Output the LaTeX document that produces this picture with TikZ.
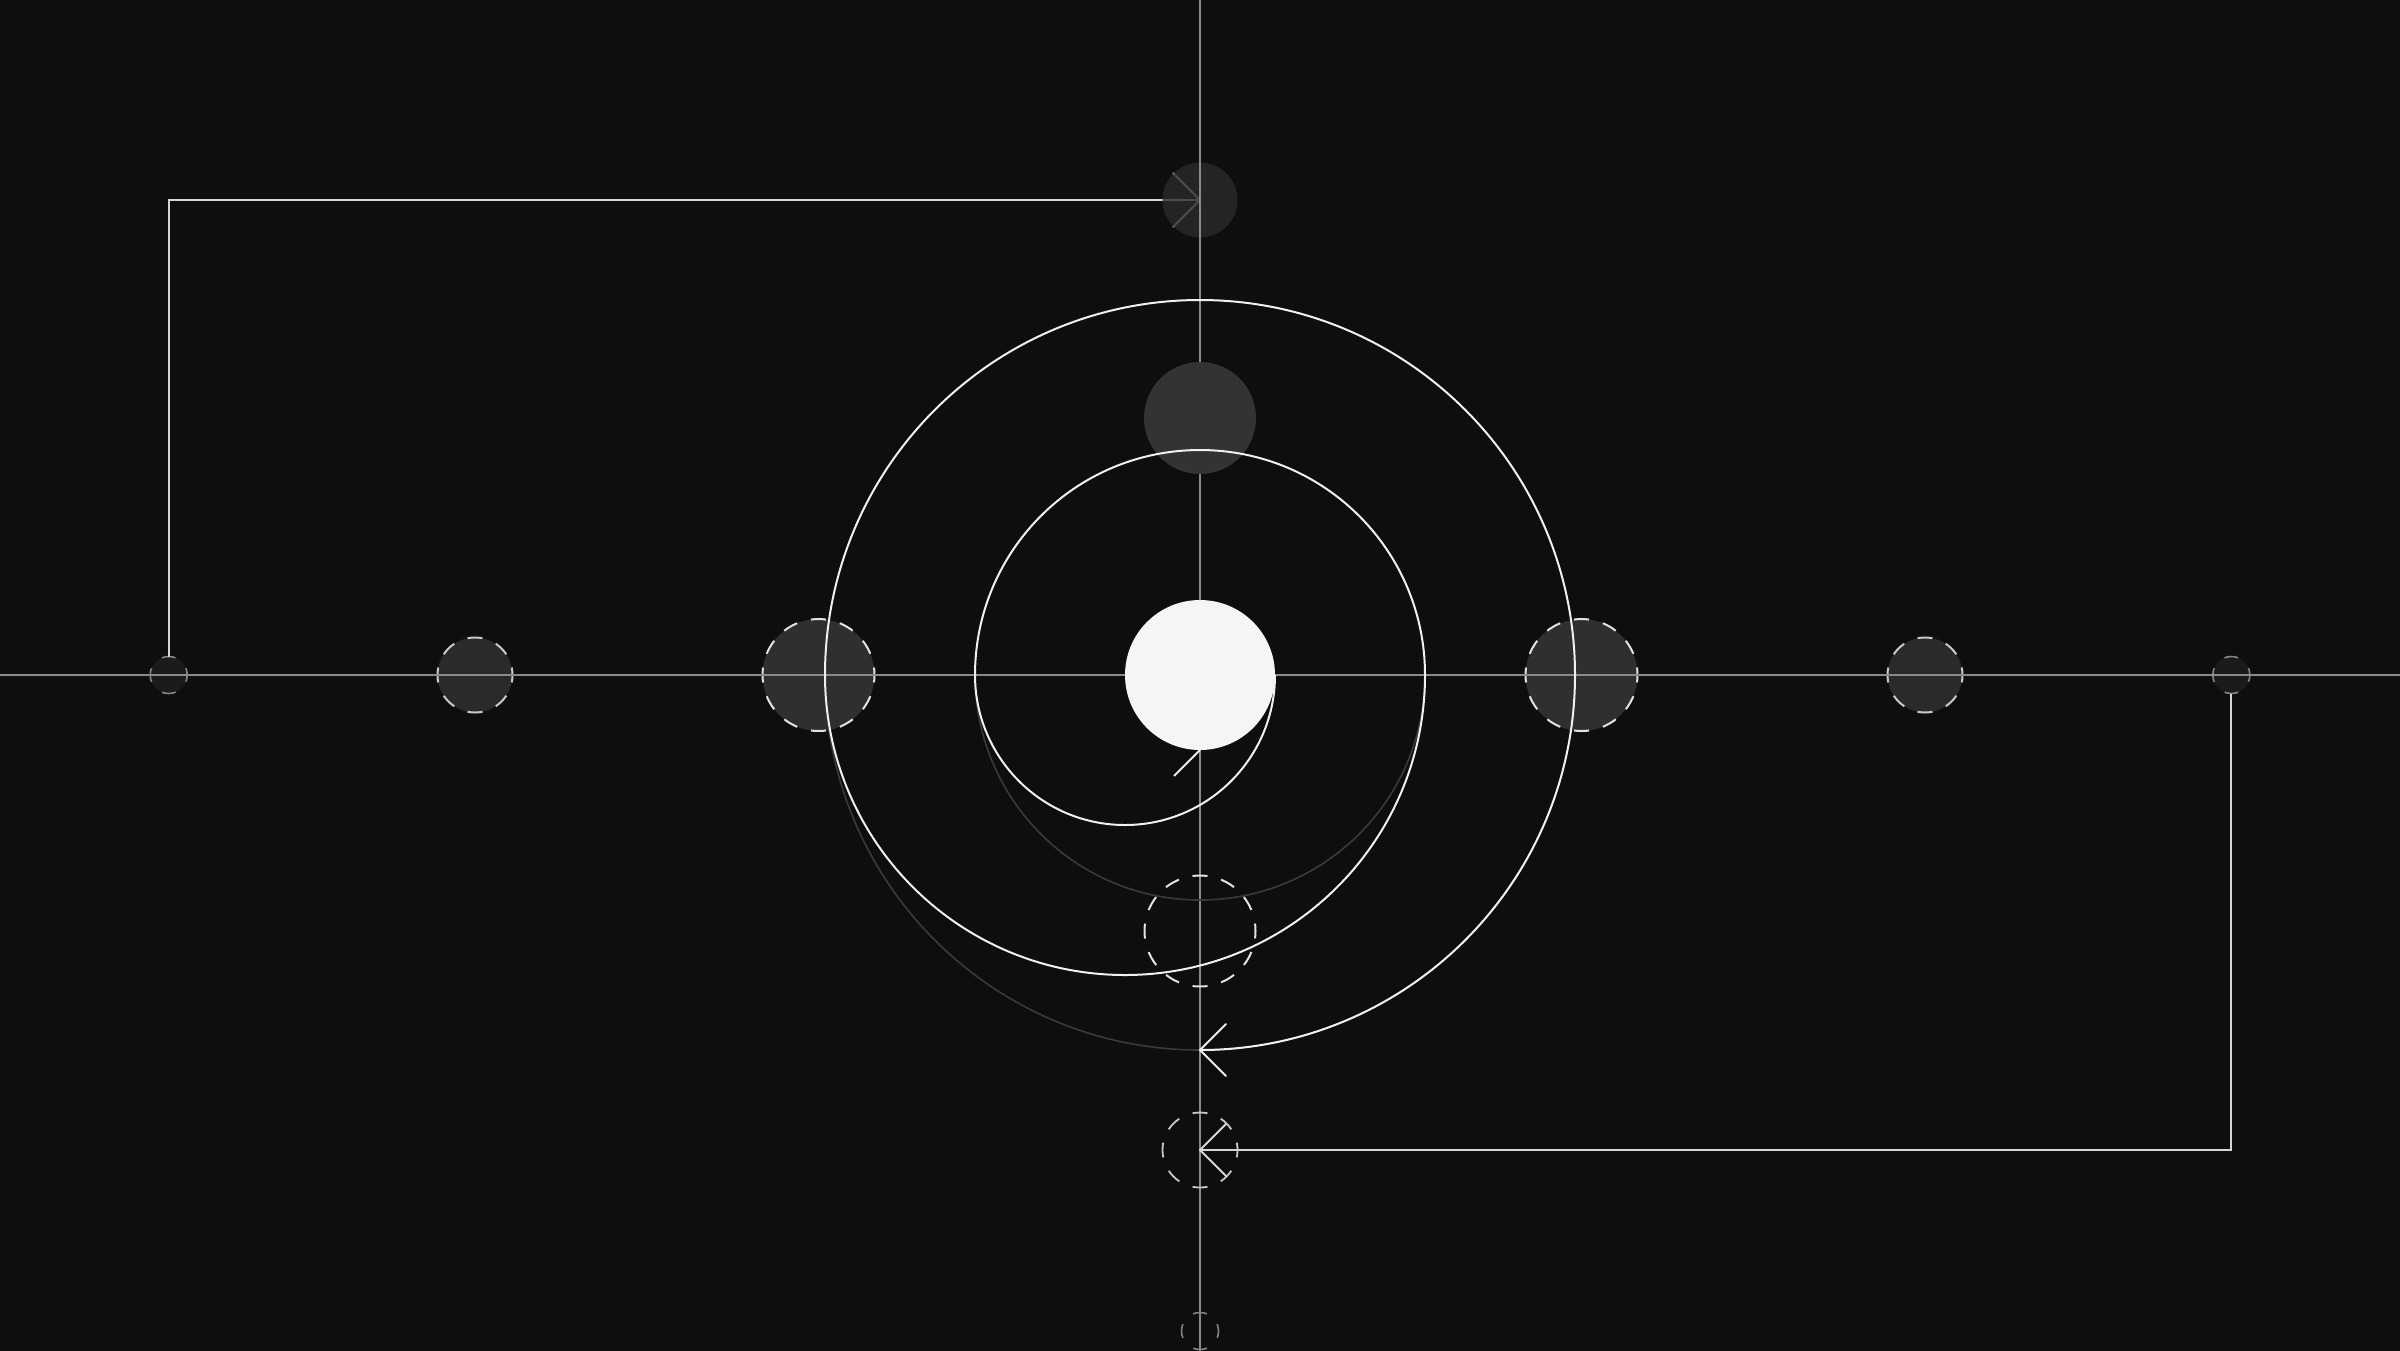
\documentclass[tikz,border=0pt]{standalone}
\usetikzlibrary{calc}
\definecolor{bgc}{HTML}{0E0E0E}
\definecolor{axisc}{HTML}{8A8A8A}
\definecolor{wirec}{HTML}{D6D6D6}
\definecolor{spiralc}{HTML}{F0F0F0}
\definecolor{ghostc}{HTML}{3A3A3A}
\definecolor{discA}{HTML}{2F2F2F}
\definecolor{discB}{HTML}{2A2A2A}
\definecolor{discC}{HTML}{1B1B1B}
\definecolor{moonc}{HTML}{333333}
\definecolor{hubc}{HTML}{F5F5F5}
\definecolor{ringA}{HTML}{E2E2E2}
\definecolor{ringB}{HTML}{C8C8C8}
\definecolor{ringC}{HTML}{858585}
\begin{document}
\begin{tikzpicture}[x=1pt,y=-1pt,
  every node/.style={inner sep=0pt,outer sep=0pt,circle},
  axisline/.style={draw=axisc,line width=1.6pt},
  wire/.style={draw=wirec,line width=2pt},
  spiralline/.style={draw=spiralc,line width=2pt},
  ghostline/.style={draw=ghostc,line width=1.6pt},
  dashA/.style={dash pattern=on 15pt off 14.32pt,dash phase=7.5pt},
  dashAb/.style={dash pattern=on 15pt off 14.06pt,dash phase=7.5pt},
  dashB/.style={dash pattern=on 15pt off 14.45pt,dash phase=7.5pt},
  dashC/.style={dash pattern=on 14pt off 15.06pt,dash phase=7pt},
  bigdisc/.style={fill=discA,draw=ringA,line width=2pt,dashA,minimum size=112pt},
  middisc/.style={fill=discB,draw=ringB,line width=2pt,dashB,minimum size=75pt},
  smalldisc/.style={fill=discC,draw=ringC,line width=1.6pt,dashC,minimum size=37pt},
  ghostring/.style={draw=ringA,line width=2pt,dashAb,minimum size=111pt},
  midring/.style={draw=ringB,line width=1.8pt,dashB,minimum size=75pt},
  tinyring/.style={draw=ringC,line width=1.6pt,dashC,minimum size=37pt}
]
\useasboundingbox (0,0) rectangle (2400,1350);
\fill[bgc] (-20,-20) rectangle (2420,1370);

% nodes on the horizontal axis (drawn before axes)
\node[smalldisc] (L1) at (168.7,675) {};
\node[middisc]   (L2) at (475,675) {};
\node[bigdisc]   (L3) at (818.5,675) {};
\node[bigdisc]   (R3) at (1581.5,675) {};
\node[middisc]   (R2) at (1925,675) {};
\node[smalldisc] (R1) at (2231.3,675) {};

% top connector with arrow, under a translucent disc
\coordinate (topC) at (1200,200);
\draw[wire] (L1.north) |- (topC);
\draw[wire,line cap=round] ($(topC)+(-26.7,-26.7)$) -- (topC) -- ($(topC)+(-26.7,26.7)$);
\node[fill=discB,fill opacity=0.8,minimum size=75pt] (topN) at (topC) {};

% axes
\coordinate (axT) at (1200,-20);
\coordinate (axB) at (1200,1370);
\coordinate (axL) at (-20,675);
\coordinate (axR) at (2420,675);
\draw[axisline] (axT) -- (axB);
\draw[axisline] (axL) -- (axR);

% bottom-right connector
\node[midring] (B2) at (1200,1150) {};
\draw[wire] (R1.south) |- (B2.center);
\draw[wire,line cap=round] ($(B2.center)+(26,-26)$) -- (B2.center) -- ($(B2.center)+(26,26)$);

% gray moon above
\node[fill=moonc,minimum size=112pt] (moon) at (1200,418) {};

% hub
\node[fill=hubc,minimum size=150pt] (hub) at (1200,675) {};

% dim lower halves
\coordinate (g1) at (1425,675);
\coordinate (g2) at (1575,675);
\draw[ghostline] (g1) arc[start angle=0,end angle=-180,radius=225pt];
\draw[ghostline] (g2) arc[start angle=0,end angle=-180,radius=375pt];

% spiral
\draw[spiralline] (hub.east)
  arc[start angle=0,end angle=-180,radius=150pt]
  arc[start angle=180,end angle=0,radius=225pt]
  arc[start angle=0,end angle=-180,radius=300pt]
  arc[start angle=180,end angle=0,radius=375pt]
  arc[start angle=0,end angle=-90,radius=375pt] coordinate (spEnd);
\draw[spiralline,line cap=round] ($(spEnd)+(26,-26)$) -- (spEnd) -- ($(spEnd)+(26,26)$);
\draw[spiralline] (hub.south) -- ++(-26,26);

% dashed rings below
\node[ghostring] (B1) at (1200,931) {};
\node[tinyring] (B3) at (1200,1331) {};
\end{tikzpicture}
\end{document}
